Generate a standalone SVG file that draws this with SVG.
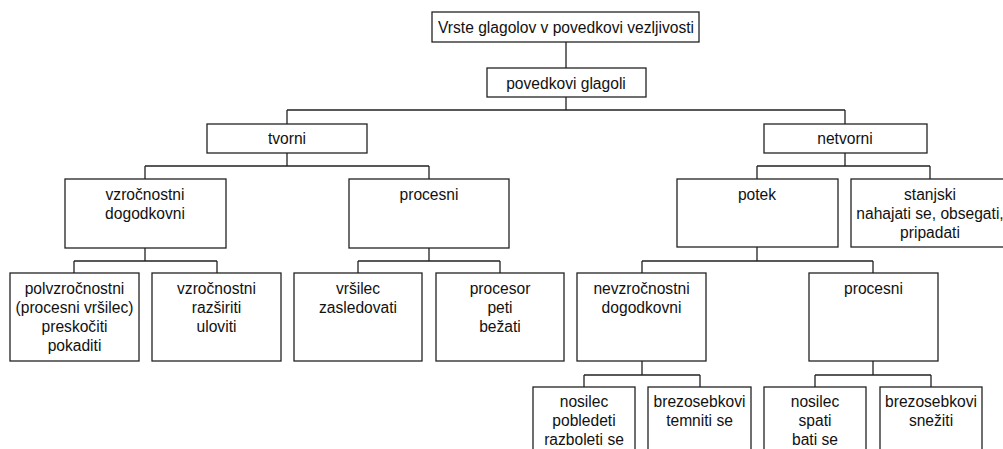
<svg xmlns="http://www.w3.org/2000/svg" width="1003" height="449" viewBox="0 0 1003 449">
<style>
.box{fill:#fff;stroke:#222;stroke-width:1.3}
.t{font-family:"Liberation Sans",Arial,sans-serif;font-size:15.6px;fill:#111;text-anchor:middle}
.c{fill:none;stroke:#222;stroke-width:1.3}
</style>
<rect width="1003" height="449" fill="#fff"/>
<g id="connectors">
<path class="c" d="M566,42V68M566,97V110M287,110H845M287,110V124M845,110V124"/>
<path class="c" d="M287,153V166M145,166H429M145,166V179M429,166V179"/>
<path class="c" d="M145,248V261M74,261H217M74,261V273M217,261V273"/>
<path class="c" d="M429,248V261M358,261H500M358,261V273M500,261V273"/>
<path class="c" d="M845,153V166M757,166H930M757,166V179M930,166V179"/>
<path class="c" d="M757,247V261M642,261H873M642,261V273M873,261V273"/>
<path class="c" d="M642,361V375M584,375H700M584,375V387M700,375V387"/>
<path class="c" d="M873,361V375M815,375H931M815,375V387M931,375V387"/>
</g>
<g id="n-root"><rect class="box" x="432" y="12" width="267" height="30"/><text class="t" x="566" y="33">Vrste glagolov v povedkovi vezljivosti</text></g>
<g id="n-povedkovi"><rect class="box" x="487" y="68" width="159" height="29"/><text class="t" x="566" y="89">povedkovi glagoli</text></g>
<g id="n-tvorni"><rect class="box" x="207" y="124" width="160" height="29"/><text class="t" x="287" y="144">tvorni</text></g>
<g id="n-netvorni"><rect class="box" x="764" y="124" width="163" height="29"/><text class="t" x="845" y="144">netvorni</text></g>
<g id="n-vzrocnostni"><rect class="box" x="65" y="179" width="161" height="69"/><text class="t" x="145" y="200">vzročnostni</text><text class="t" x="145" y="219">dogodkovni</text></g>
<g id="n-procesni1"><rect class="box" x="349" y="179" width="160" height="69"/><text class="t" x="429" y="200">procesni</text></g>
<g id="n-potek"><rect class="box" x="677" y="179" width="161" height="68"/><text class="t" x="757" y="200">potek</text></g>
<g id="n-stanjski"><rect class="box" x="851" y="179" width="158" height="68"/><text class="t" x="930" y="200">stanjski</text><text class="t" x="930" y="219">nahajati se, obsegati,</text><text class="t" x="930" y="238">pripadati</text></g>
<g id="n-polvzrocnostni"><rect class="box" x="10" y="273" width="129" height="88"/><text class="t" x="74.5" y="294">polvzročnostni</text><text class="t" x="74.5" y="313">(procesni vršilec)</text><text class="t" x="74.5" y="332">preskočiti</text><text class="t" x="74.5" y="351">pokaditi</text></g>
<g id="n-vzrocnostni2"><rect class="box" x="152" y="273" width="129" height="88"/><text class="t" x="216.5" y="294">vzročnostni</text><text class="t" x="216.5" y="313">razširiti</text><text class="t" x="216.5" y="332">uloviti</text></g>
<g id="n-vrsilec"><rect class="box" x="294" y="273" width="128" height="88"/><text class="t" x="358" y="294">vršilec</text><text class="t" x="358" y="313">zasledovati</text></g>
<g id="n-procesor"><rect class="box" x="436" y="273" width="128" height="88"/><text class="t" x="500" y="294">procesor</text><text class="t" x="500" y="313">peti</text><text class="t" x="500" y="332">bežati</text></g>
<g id="n-nevzrocnostni"><rect class="box" x="577" y="273" width="129" height="88"/><text class="t" x="641.5" y="294">nevzročnostni</text><text class="t" x="641.5" y="313">dogodkovni</text></g>
<g id="n-procesni2"><rect class="box" x="809" y="273" width="129" height="88"/><text class="t" x="873.5" y="294">procesni</text></g>
<g id="n-nosilec1"><rect class="box" x="533" y="387" width="102" height="80"/><text class="t" x="584" y="407">nosilec</text><text class="t" x="584" y="426">pobledeti</text><text class="t" x="584" y="445">razboleti se</text></g>
<g id="n-brezosebkovi1"><rect class="box" x="648" y="387" width="103" height="80"/><text class="t" x="699.5" y="407">brezosebkovi</text><text class="t" x="699.5" y="426">temniti se</text></g>
<g id="n-nosilec2"><rect class="box" x="764" y="387" width="102" height="80"/><text class="t" x="815" y="407">nosilec</text><text class="t" x="815" y="426">spati</text><text class="t" x="815" y="445">bati se</text></g>
<g id="n-brezosebkovi2"><rect class="box" x="880" y="387" width="102" height="80"/><text class="t" x="931" y="407">brezosebkovi</text><text class="t" x="931" y="426">snežiti</text></g>
</svg>
